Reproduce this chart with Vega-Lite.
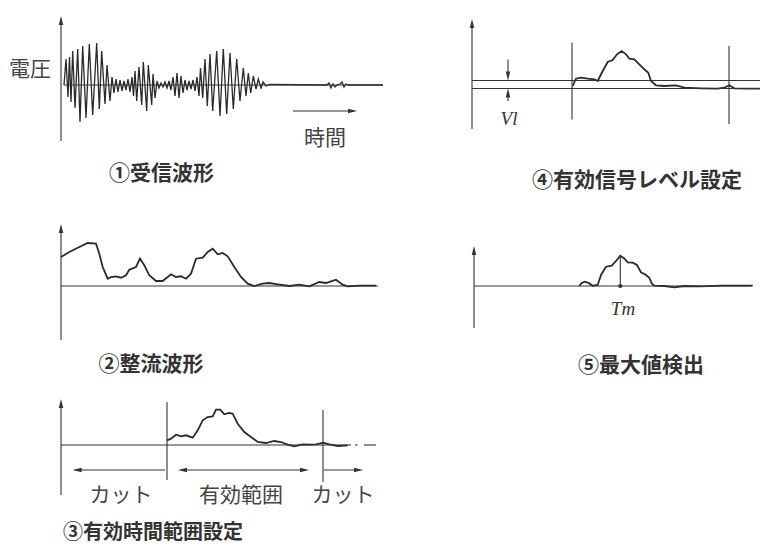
{
  "$schema": "https://vega.github.io/schema/vega-lite/v6.json",
  "background": "white",
  "padding": {"left": 9, "top": 15, "right": 0, "bottom": 0},
  "config": {"view": {"stroke": null}, "font": "Noto Sans CJK JP"},
  "datasets": {
    "p1": [
      {"part":"wave","t":3,"v":0},{"part":"wave","t":5,"v":26},{"part":"wave","t":7,"v":-12},{"part":"wave","t":8.5,"v":28},
      {"part":"wave","t":10,"v":-17},{"part":"wave","t":11.7,"v":34},{"part":"wave","t":14,"v":-23},{"part":"wave","t":16.7,"v":36},
      {"part":"wave","t":19,"v":-37},{"part":"wave","t":21.7,"v":39},{"part":"wave","t":25,"v":-33},{"part":"wave","t":28.3,"v":41},
      {"part":"wave","t":31.7,"v":-30},{"part":"wave","t":35.7,"v":42},{"part":"wave","t":38.3,"v":-24},{"part":"wave","t":40.7,"v":34},
      {"part":"wave","t":44,"v":-19},{"part":"wave","t":46,"v":20},{"part":"wave","t":49,"v":-16},{"part":"wave","t":51,"v":8},
      {"part":"wave","t":53,"v":-8},{"part":"wave","t":55,"v":6},{"part":"wave","t":57,"v":-7},{"part":"wave","t":59,"v":5},
      {"part":"wave","t":61,"v":-6},{"part":"wave","t":63,"v":4},{"part":"wave","t":65,"v":-5},{"part":"wave","t":67,"v":6},
      {"part":"wave","t":69,"v":-7},{"part":"wave","t":71,"v":8},{"part":"wave","t":72.5,"v":-11},{"part":"wave","t":74,"v":14},
      {"part":"wave","t":75.7,"v":-16},{"part":"wave","t":78,"v":18},{"part":"wave","t":80.7,"v":-20},{"part":"wave","t":82.3,"v":23},
      {"part":"wave","t":85.7,"v":-26},{"part":"wave","t":87.3,"v":20},{"part":"wave","t":90.7,"v":-20},{"part":"wave","t":92,"v":11},
      {"part":"wave","t":94,"v":-13},{"part":"wave","t":96,"v":4},{"part":"wave","t":98,"v":-3},{"part":"wave","t":100,"v":2},
      {"part":"wave","t":102,"v":-2},{"part":"wave","t":104,"v":3},{"part":"wave","t":106,"v":-3},{"part":"wave","t":108,"v":4},
      {"part":"wave","t":110,"v":-5},{"part":"wave","t":112,"v":8},{"part":"wave","t":114,"v":-11},{"part":"wave","t":116,"v":12},
      {"part":"wave","t":118,"v":-13},{"part":"wave","t":120,"v":9},{"part":"wave","t":122,"v":-8},{"part":"wave","t":124,"v":5},
      {"part":"wave","t":126,"v":-5},{"part":"wave","t":128,"v":4},{"part":"wave","t":130,"v":-4},{"part":"wave","t":132,"v":5},
      {"part":"wave","t":134,"v":-6},{"part":"wave","t":136,"v":8},{"part":"wave","t":138,"v":-11},{"part":"wave","t":139.5,"v":17},
      {"part":"wave","t":141.7,"v":-13},{"part":"wave","t":144,"v":26},{"part":"wave","t":146.3,"v":-21},{"part":"wave","t":149,"v":31},
      {"part":"wave","t":151.7,"v":-26},{"part":"wave","t":155.7,"v":34},{"part":"wave","t":159,"v":-31},{"part":"wave","t":162.3,"v":36},
      {"part":"wave","t":165.7,"v":-29},{"part":"wave","t":169,"v":32},{"part":"wave","t":172.3,"v":-24},{"part":"wave","t":175.7,"v":26},
      {"part":"wave","t":179,"v":-16},{"part":"wave","t":182.3,"v":17},{"part":"wave","t":185,"v":-11},{"part":"wave","t":187.3,"v":12},
      {"part":"wave","t":189.7,"v":-8},{"part":"wave","t":192.3,"v":9},{"part":"wave","t":195,"v":-4},{"part":"wave","t":197.3,"v":6},
      {"part":"wave","t":200,"v":-3},{"part":"wave","t":202,"v":3},{"part":"wave","t":205,"v":-1},{"part":"wave","t":209,"v":0.5},
      {"part":"wave","t":266,"v":0},{"part":"wave","t":268,"v":2},{"part":"wave","t":270,"v":-3},{"part":"wave","t":272,"v":1},
      {"part":"wave","t":274,"v":-2},{"part":"wave","t":276,"v":0},{"part":"wave","t":279,"v":1},{"part":"wave","t":281,"v":3},
      {"part":"wave","t":283,"v":-2},{"part":"wave","t":285,"v":1},{"part":"wave","t":288,"v":0},{"part":"wave","t":322,"v":0},
      {"part":"seg","t":0,"v":-56,"t2":0,"v2":66},
      {"part":"seg","t":3,"v":0,"t2":322,"v2":0},
      {"part":"seg","t":232,"v":-26,"t2":293,"v2":-26},
      {"part":"head","t":0,"v":64.5,"dir":"up"},
      {"part":"head","t":291.5,"v":-26,"dir":"right"},
      {"part":"label","t":-31,"v":15,"label":"電圧"},
      {"part":"label","t":264,"v":-53.5,"label":"時間"},
      {"part":"title","t":100.5,"v":-88.5,"label":"①受信波形"}
    ],
    "p2": [
      {"part":"wave","t":0,"v":29},{"part":"wave","t":8.3,"v":34},{"part":"wave","t":18.3,"v":39},{"part":"wave","t":26.7,"v":43},
      {"part":"wave","t":35,"v":42.3},{"part":"wave","t":38.3,"v":32.3},{"part":"wave","t":41.7,"v":19},{"part":"wave","t":46.7,"v":7.3},
      {"part":"wave","t":50,"v":9},{"part":"wave","t":55,"v":9.7},{"part":"wave","t":60,"v":8.3},{"part":"wave","t":65,"v":10.7},
      {"part":"wave","t":68.3,"v":16.3},{"part":"wave","t":75,"v":19},{"part":"wave","t":79,"v":27.3},{"part":"wave","t":83.3,"v":20.7},
      {"part":"wave","t":88.3,"v":10.7},{"part":"wave","t":95,"v":5},{"part":"wave","t":101.7,"v":5},{"part":"wave","t":110,"v":11.7},
      {"part":"wave","t":115,"v":9},{"part":"wave","t":120,"v":9.7},{"part":"wave","t":125,"v":7.3},{"part":"wave","t":130,"v":12.3},
      {"part":"wave","t":135,"v":27.3},{"part":"wave","t":141.7,"v":28.3},{"part":"wave","t":146.7,"v":34},{"part":"wave","t":151.7,"v":37.3},
      {"part":"wave","t":156.7,"v":31.7},{"part":"wave","t":161.7,"v":33},{"part":"wave","t":166.7,"v":29.7},{"part":"wave","t":173.3,"v":19},
      {"part":"wave","t":180,"v":9},{"part":"wave","t":186.7,"v":2.3},{"part":"wave","t":193.3,"v":0},{"part":"wave","t":201.7,"v":2.3},
      {"part":"wave","t":208.3,"v":3},{"part":"wave","t":216.7,"v":1.7},{"part":"wave","t":228.3,"v":0},{"part":"wave","t":238.3,"v":1.3},
      {"part":"wave","t":248.3,"v":-0.3},{"part":"wave","t":258.3,"v":4},{"part":"wave","t":265,"v":3},{"part":"wave","t":270,"v":4.7},
      {"part":"wave","t":275,"v":6.3},{"part":"wave","t":281.7,"v":1.3},{"part":"wave","t":286.7,"v":-0.3},{"part":"wave","t":298.3,"v":0.3},
      {"part":"wave","t":315,"v":0.3},
      {"part":"seg","t":0,"v":-54,"t2":0,"v2":58},
      {"part":"seg","t":0,"v":0,"t2":317,"v2":0},
      {"part":"head","t":0,"v":57.5,"dir":"up"},
      {"part":"title","t":90,"v":-79,"label":"②整流波形"}
    ],
    "p3": [
      {"part":"wave","t":106,"v":4.7},{"part":"wave","t":110,"v":6.3},{"part":"wave","t":115,"v":10.3},{"part":"wave","t":120,"v":8.7},
      {"part":"wave","t":125,"v":9.7},{"part":"wave","t":131.7,"v":7.3},{"part":"wave","t":136.7,"v":14.7},{"part":"wave","t":141.7,"v":24.7},
      {"part":"wave","t":146.7,"v":28},{"part":"wave","t":151.7,"v":28.7},{"part":"wave","t":155,"v":35.3},{"part":"wave","t":159.3,"v":35.3},
      {"part":"wave","t":163.3,"v":30.7},{"part":"wave","t":168.3,"v":32},{"part":"wave","t":171.7,"v":31.3},{"part":"wave","t":176.7,"v":21.3},
      {"part":"wave","t":183.3,"v":13},{"part":"wave","t":190,"v":8},{"part":"wave","t":196.7,"v":3},{"part":"wave","t":205,"v":2},
      {"part":"wave","t":213.3,"v":4},{"part":"wave","t":220,"v":3},{"part":"wave","t":226.7,"v":0.3},{"part":"wave","t":233.3,"v":-1.3},
      {"part":"wave","t":241.7,"v":0.7},{"part":"wave","t":248.3,"v":0.3},{"part":"wave","t":255,"v":0.7},{"part":"wave","t":262.3,"v":2.3},
      {"part":"wave","t":268.3,"v":0.7},{"part":"wave","t":276.7,"v":-1},{"part":"wave","t":286.7,"v":-0.3},
      {"part":"seg","t":0,"v":-50,"t2":0,"v2":42},
      {"part":"seg","t":0,"v":0,"t2":290,"v2":0},
      {"part":"seg","t":294,"v":0,"t2":296.5,"v2":0},
      {"part":"seg","t":303,"v":0,"t2":315,"v2":0},
      {"part":"seg","t":106,"v":43,"t2":106,"v2":-35},
      {"part":"seg","t":262,"v":35,"t2":262,"v2":-37},
      {"part":"seg","t":104,"v":-25,"t2":14,"v2":-25},
      {"part":"seg","t":121,"v":-25,"t2":244,"v2":-25},
      {"part":"seg","t":263,"v":-25,"t2":298,"v2":-25},
      {"part":"head","t":0,"v":41.5,"dir":"up"},
      {"part":"head","t":16.2,"v":-25,"dir":"left"},
      {"part":"head","t":121.5,"v":-25,"dir":"left"},
      {"part":"head","t":243.5,"v":-25,"dir":"right"},
      {"part":"head","t":297.5,"v":-25,"dir":"right"},
      {"part":"label","t":60,"v":-51,"label":"カット"},
      {"part":"label","t":180,"v":-51,"label":"有効範囲"},
      {"part":"label","t":282,"v":-51,"label":"カット"},
      {"part":"title","t":92,"v":-87.5,"label":"③有効時間範囲設定"}
    ],
    "p4": [
      {"part":"wave","t":100.7,"v":2.5},{"part":"wave","t":104,"v":9.8},{"part":"wave","t":109,"v":10.8},{"part":"wave","t":115.7,"v":9.8},
      {"part":"wave","t":122.3,"v":9.2},{"part":"wave","t":125.7,"v":7.5},{"part":"wave","t":130.7,"v":17.5},{"part":"wave","t":135.7,"v":26.5},
      {"part":"wave","t":140.7,"v":28.5},{"part":"wave","t":145,"v":34.2},{"part":"wave","t":149.7,"v":37.5},{"part":"wave","t":154,"v":34.2},
      {"part":"wave","t":157.3,"v":29.8},{"part":"wave","t":162.3,"v":29.2},{"part":"wave","t":167.3,"v":24.2},{"part":"wave","t":172.3,"v":19.2},
      {"part":"wave","t":176.3,"v":15.8},{"part":"wave","t":179,"v":7.5},{"part":"wave","t":184,"v":3.2},{"part":"wave","t":192.3,"v":2.5},
      {"part":"wave","t":204,"v":3.2},{"part":"wave","t":212.3,"v":0.8},{"part":"wave","t":229,"v":0.2},{"part":"wave","t":245.7,"v":-0.2},
      {"part":"wave","t":252.3,"v":0.8},{"part":"wave","t":257.3,"v":3.2},{"part":"wave","t":262.3,"v":0.2},{"part":"wave","t":275.7,"v":-0.2},
      {"part":"wave","t":289,"v":-0.2},
      {"part":"seg","t":0,"v":-40.5,"t2":0,"v2":65.5},
      {"part":"seg","t":0,"v":0,"t2":289,"v2":0},
      {"part":"seg","t":0,"v":8,"t2":289,"v2":8},
      {"part":"seg","t":100,"v":46,"t2":100,"v2":-31},
      {"part":"seg","t":257,"v":42.5,"t2":257,"v2":-35.5},
      {"part":"seg","t":36,"v":29,"t2":36,"v2":12},
      {"part":"seg","t":36,"v":-12.5,"t2":36,"v2":-4},
      {"part":"head","t":0,"v":65,"dir":"up"},
      {"part":"head","t":36,"v":12.5,"dir":"down"},
      {"part":"head","t":36,"v":-4.5,"dir":"up"},
      {"part":"math","t":37,"v":-30.5,"label":"Vl"},
      {"part":"title","t":165,"v":-92.5,"label":"④有効信号レベル設定"}
    ],
    "p5": [
      {"part":"wave","t":105.3,"v":0},{"part":"wave","t":107.7,"v":3},{"part":"wave","t":111,"v":4.3},{"part":"wave","t":115.3,"v":2.6},
      {"part":"wave","t":118.7,"v":0.3},{"part":"wave","t":123.7,"v":1},{"part":"wave","t":127,"v":11},{"part":"wave","t":132,"v":19.3},
      {"part":"wave","t":137.7,"v":20.3},{"part":"wave","t":142,"v":25},{"part":"wave","t":146.3,"v":30.3},{"part":"wave","t":150.3,"v":27.6},
      {"part":"wave","t":153.7,"v":23.6},{"part":"wave","t":158.7,"v":23.3},{"part":"wave","t":163,"v":21},{"part":"wave","t":167,"v":13.6},
      {"part":"wave","t":172,"v":11},{"part":"wave","t":175.3,"v":8.3},{"part":"wave","t":177.7,"v":2.6},{"part":"wave","t":180.3,"v":0.3},
      {"part":"wave","t":190.3,"v":0},{"part":"wave","t":200.3,"v":-1.4},{"part":"wave","t":210.3,"v":0},{"part":"wave","t":227,"v":-0.4},
      {"part":"wave","t":247,"v":0.3},{"part":"wave","t":278.7,"v":0.3},
      {"part":"seg","t":0,"v":-42,"t2":0,"v2":36},
      {"part":"seg","t":0,"v":0,"t2":277,"v2":0},
      {"part":"seg","t":146.3,"v":0,"t2":146.3,"v2":30.3},
      {"part":"head","t":0,"v":35.5,"dir":"up"},
      {"part":"dot","t":146.3,"v":0},
      {"part":"math","t":149,"v":-23,"label":"Tm"},
      {"part":"title","t":167,"v":-80,"label":"⑤最大値検出"}
    ]
  },
  "spacing": 81,
  "hconcat": [
    {
      "spacing": 0,
      "vconcat": [
        {
          "width": 329, "height": 207,
          "data": {"name": "p1"},
          "encoding": {
            "x": {"field": "t", "type": "quantitative", "scale": {"domain": [-5, 324], "nice": false, "zero": false}, "axis": null},
            "y": {"field": "v", "type": "quantitative", "scale": {"domain": [-138, 69], "nice": false, "zero": false}, "axis": null}
          },
          "layer": [
            {"transform": [{"filter": "datum.part === 'wave'"}], "mark": {"type": "line", "stroke": "#2a2a2a", "strokeWidth": 1.3}},
            {"transform": [{"filter": "datum.part === 'seg'"}], "mark": {"type": "rule", "stroke": "#333", "strokeWidth": 1.1}, "encoding": {"x2": {"field": "t2"}, "y2": {"field": "v2"}}},
            {"transform": [{"filter": "datum.part === 'head'"}], "mark": {"type": "point", "filled": true, "size": 81, "color": "#333", "opacity": 1}, "encoding": {"shape": {"field": "dir", "type": "nominal", "scale": {"domain": ["up", "right", "down", "left"], "range": ["M0,-1L0.5,1L-0.5,1Z", "M1,0L-1,-0.5L-1,0.5Z", "M0,1L0.5,-1L-0.5,-1Z", "M-1,0L1,-0.5L1,0.5Z"]}, "legend": null}}},
            {"transform": [{"filter": "datum.part === 'label'"}], "mark": {"type": "text", "fontSize": 21, "font": "Noto Sans CJK JP", "color": "#444", "baseline": "middle"}, "encoding": {"text": {"field": "label"}}},
            {"transform": [{"filter": "datum.part === 'title'"}], "mark": {"type": "text", "fontSize": 21, "fontWeight": "bold", "font": "Noto Sans CJK JP", "color": "#333", "baseline": "middle"}, "encoding": {"text": {"field": "label"}}}
          ]
        },
        {
          "width": 329, "height": 175,
          "data": {"name": "p2"},
          "encoding": {
            "x": {"field": "t", "type": "quantitative", "scale": {"domain": [-5, 324], "nice": false, "zero": false}, "axis": null},
            "y": {"field": "v", "type": "quantitative", "scale": {"domain": [-113, 62], "nice": false, "zero": false}, "axis": null}
          },
          "layer": [
            {"transform": [{"filter": "datum.part === 'wave'"}], "mark": {"type": "line", "stroke": "#2a2a2a", "strokeWidth": 1.8}},
            {"transform": [{"filter": "datum.part === 'seg'"}], "mark": {"type": "rule", "stroke": "#333", "strokeWidth": 1.1}, "encoding": {"x2": {"field": "t2"}, "y2": {"field": "v2"}}},
            {"transform": [{"filter": "datum.part === 'head'"}], "mark": {"type": "point", "filled": true, "size": 81, "color": "#333", "opacity": 1}, "encoding": {"shape": {"field": "dir", "type": "nominal", "scale": {"domain": ["up", "right", "down", "left"], "range": ["M0,-1L0.5,1L-0.5,1Z", "M1,0L-1,-0.5L-1,0.5Z", "M0,1L0.5,-1L-0.5,-1Z", "M-1,0L1,-0.5L1,0.5Z"]}, "legend": null}}},
            {"transform": [{"filter": "datum.part === 'title'"}], "mark": {"type": "text", "fontSize": 21, "fontWeight": "bold", "font": "Noto Sans CJK JP", "color": "#333", "baseline": "middle"}, "encoding": {"text": {"field": "label"}}}
          ]
        },
        {
          "width": 329, "height": 150,
          "data": {"name": "p3"},
          "encoding": {
            "x": {"field": "t", "type": "quantitative", "scale": {"domain": [-5, 324], "nice": false, "zero": false}, "axis": null},
            "y": {"field": "v", "type": "quantitative", "scale": {"domain": [-104, 46], "nice": false, "zero": false}, "axis": null}
          },
          "layer": [
            {"transform": [{"filter": "datum.part === 'wave'"}], "mark": {"type": "line", "stroke": "#2a2a2a", "strokeWidth": 1.8}},
            {"transform": [{"filter": "datum.part === 'seg'"}], "mark": {"type": "rule", "stroke": "#333", "strokeWidth": 1.1}, "encoding": {"x2": {"field": "t2"}, "y2": {"field": "v2"}}},
            {"transform": [{"filter": "datum.part === 'head'"}], "mark": {"type": "point", "filled": true, "size": 81, "color": "#333", "opacity": 1}, "encoding": {"shape": {"field": "dir", "type": "nominal", "scale": {"domain": ["up", "right", "down", "left"], "range": ["M0,-1L0.5,1L-0.5,1Z", "M1,0L-1,-0.5L-1,0.5Z", "M0,1L0.5,-1L-0.5,-1Z", "M-1,0L1,-0.5L1,0.5Z"]}, "legend": null}}},
            {"transform": [{"filter": "datum.part === 'label'"}], "mark": {"type": "text", "fontSize": 21, "font": "Noto Sans CJK JP", "color": "#444", "baseline": "middle"}, "encoding": {"text": {"field": "label"}}},
            {"transform": [{"filter": "datum.part === 'title'"}], "mark": {"type": "text", "fontSize": 20, "fontWeight": "bold", "font": "Noto Sans CJK JP", "color": "#333", "baseline": "middle"}, "encoding": {"text": {"field": "label"}}}
          ]
        }
      ]
    },
    {
      "spacing": 0,
      "vconcat": [
        {
          "width": 294, "height": 230,
          "data": {"name": "p4"},
          "encoding": {
            "x": {"field": "t", "type": "quantitative", "scale": {"domain": [-5, 289], "nice": false, "zero": false}, "axis": null},
            "y": {"field": "v", "type": "quantitative", "scale": {"domain": [-157.5, 72.5], "nice": false, "zero": false}, "axis": null}
          },
          "layer": [
            {"transform": [{"filter": "datum.part === 'wave'"}], "mark": {"type": "line", "stroke": "#2a2a2a", "strokeWidth": 1.8}},
            {"transform": [{"filter": "datum.part === 'seg'"}], "mark": {"type": "rule", "stroke": "#333", "strokeWidth": 1.1}, "encoding": {"x2": {"field": "t2"}, "y2": {"field": "v2"}}},
            {"transform": [{"filter": "datum.part === 'head'"}], "mark": {"type": "point", "filled": true, "size": 81, "color": "#333", "opacity": 1}, "encoding": {"shape": {"field": "dir", "type": "nominal", "scale": {"domain": ["up", "right", "down", "left"], "range": ["M0,-1L0.5,1L-0.5,1Z", "M1,0L-1,-0.5L-1,0.5Z", "M0,1L0.5,-1L-0.5,-1Z", "M-1,0L1,-0.5L1,0.5Z"]}, "legend": null}}},
            {"transform": [{"filter": "datum.part === 'math'"}], "mark": {"type": "text", "fontSize": 19, "font": "Liberation Serif", "fontStyle": "italic", "color": "#333", "baseline": "middle"}, "encoding": {"text": {"field": "label"}}},
            {"transform": [{"filter": "datum.part === 'title'"}], "mark": {"type": "text", "fontSize": 21, "fontWeight": "bold", "font": "Noto Sans CJK JP", "color": "#333", "baseline": "middle"}, "encoding": {"text": {"field": "label"}}}
          ]
        },
        {
          "width": 294, "height": 302,
          "data": {"name": "p5"},
          "encoding": {
            "x": {"field": "t", "type": "quantitative", "scale": {"domain": [-7, 287], "nice": false, "zero": false}, "axis": null},
            "y": {"field": "v", "type": "quantitative", "scale": {"domain": [-262, 40], "nice": false, "zero": false}, "axis": null}
          },
          "layer": [
            {"transform": [{"filter": "datum.part === 'wave'"}], "mark": {"type": "line", "stroke": "#2a2a2a", "strokeWidth": 1.8}},
            {"transform": [{"filter": "datum.part === 'seg'"}], "mark": {"type": "rule", "stroke": "#333", "strokeWidth": 1.1}, "encoding": {"x2": {"field": "t2"}, "y2": {"field": "v2"}}},
            {"transform": [{"filter": "datum.part === 'head'"}], "mark": {"type": "point", "filled": true, "size": 81, "color": "#333", "opacity": 1}, "encoding": {"shape": {"field": "dir", "type": "nominal", "scale": {"domain": ["up", "right", "down", "left"], "range": ["M0,-1L0.5,1L-0.5,1Z", "M1,0L-1,-0.5L-1,0.5Z", "M0,1L0.5,-1L-0.5,-1Z", "M-1,0L1,-0.5L1,0.5Z"]}, "legend": null}}},
            {"transform": [{"filter": "datum.part === 'dot'"}], "mark": {"type": "circle", "size": 18, "color": "#333", "opacity": 1}},
            {"transform": [{"filter": "datum.part === 'math'"}], "mark": {"type": "text", "fontSize": 19, "font": "Liberation Serif", "fontStyle": "italic", "color": "#333", "baseline": "middle"}, "encoding": {"text": {"field": "label"}}},
            {"transform": [{"filter": "datum.part === 'title'"}], "mark": {"type": "text", "fontSize": 21, "fontWeight": "bold", "font": "Noto Sans CJK JP", "color": "#333", "baseline": "middle"}, "encoding": {"text": {"field": "label"}}}
          ]
        }
      ]
    }
  ]
}
